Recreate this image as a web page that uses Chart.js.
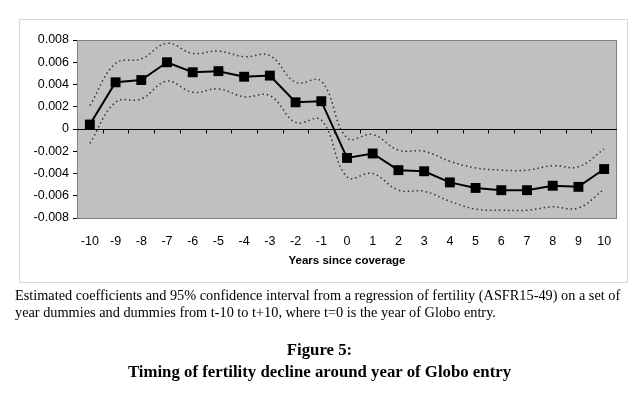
<!DOCTYPE html>
<html>
<head>
<meta charset="utf-8">
<script src="https://cdn.jsdelivr.net/npm/chart.js@4"></script>
<style>
  body { margin: 0; background: #fff; width: 639px; height: 398px; position: relative; overflow: hidden; }
  #frame { position: absolute; left: 19px; top: 19px; width: 609px; height: 264px; border: 1px solid #d9d9d9; box-sizing: border-box; }
  #chartBox { position: absolute; left: 0; top: 0; width: 639px; height: 398px; }
  .note { position: absolute; left: 15px; top: 287px; white-space: nowrap; font-family: "Liberation Serif", "Times New Roman", serif; font-size: 14.3px; line-height: 16.5px; color: #000; }
  .fig { position: absolute; left: 0; width: 639px; text-align: center; font-family: "Liberation Serif", "Times New Roman", serif; font-weight: bold; font-size: 16.8px; color: #000; }
</style>
</head>
<body>
<div id="frame"></div>
<div id="chartBox"><canvas id="grafico"></canvas></div>
<div class="note">Estimated coefficients and 95% confidence interval from a regression of fertility (ASFR15-49) on a set of<br>year dummies and dummies from t-10 to t+10, where t=0 is the year of Globo entry.</div>
<div class="fig" style="top:340px">Figure 5:</div>
<div class="fig" style="top:362px">Timing of fertility decline around year of Globo entry</div>
<script>
// years since coverage
var years = ["-10","-9","-8","-7","-6","-5","-4","-3","-2","-1","0","1","2","3","4","5","6","7","8","9","10"];
// estimated coefficients
var coef = [0.0004,0.0042,0.0044,0.0060,0.0051,0.0052,0.0047,0.0048,0.0024,0.0025,
            -0.0026,-0.0022,-0.0037,-0.0038,-0.0048,-0.0053,-0.0055,-0.0055,-0.0051,-0.0052,-0.0036];
// 95% confidence interval
var upper = [0.0021,0.0059,0.0063,0.0077,0.0068,0.0070,0.0065,0.0066,0.0042,0.0043,
             -0.0008,-0.0005,-0.0019,-0.0020,-0.0029,-0.0035,-0.0037,-0.0037,-0.0033,-0.0034,-0.0018];
var lower = [-0.0013,0.0024,0.0027,0.0043,0.0033,0.0036,0.0029,0.0030,0.0006,0.0008,
             -0.0043,-0.0040,-0.0055,-0.0056,-0.0065,-0.0072,-0.0073,-0.0073,-0.0070,-0.0071,-0.0054];
var yTicks = [-0.008,-0.006,-0.004,-0.002,0,0.002,0.004,0.006,0.008];

var fondo = {
  id: 'fondo',
  beforeDatasetsDraw: function(chart) {
    var a = chart.chartArea, ctx = chart.ctx;
    ctx.save();
    ctx.fillStyle = '#c0c0c0';
    ctx.fillRect(a.left, a.top, a.right - a.left, a.bottom - a.top);
    ctx.strokeStyle = '#808080';
    ctx.lineWidth = 1;
    ctx.strokeRect(a.left + 0.5, a.top + 0.5, a.right - a.left - 1, a.bottom - a.top);
    // zero line with tick marks between categories
    var x = chart.scales.x, y = chart.scales.y;
    var y0 = Math.round(y.getPixelForValue(0)) + 0.5;
    ctx.strokeStyle = '#000';
    ctx.beginPath();
    ctx.moveTo(a.left, y0); ctx.lineTo(a.right, y0);
    for (var i = 1; i < years.length; i++) {
      var xp = Math.round((x.getPixelForValue(i - 1) + x.getPixelForValue(i)) / 2) + 0.5;
      ctx.moveTo(xp, y0); ctx.lineTo(xp, y0 + 4);
    }
    ctx.stroke();
    ctx.restore();
  }
};

var dotted = {
  borderColor: '#333333',
  borderWidth: 1.5,
  borderDash: [1.5, 3],
  pointRadius: 0,
  tension: 0.4,
  fill: false
};

new Chart(document.getElementById("grafico"), {
  type: 'line',
  data: {
    labels: years,
    datasets: [
      Object.assign({ label: "Upper 95%", data: upper }, dotted),
      Object.assign({ label: "Lower 95%", data: lower }, dotted),
      {
        label: "Coefficient",
        data: coef,
        borderColor: '#000',
        borderWidth: 2,
        pointStyle: 'rect',
        pointRadius: 7,
        pointBackgroundColor: '#000',
        pointBorderColor: '#000',
        pointBorderWidth: 0,
        tension: 0
      }
    ]
  },
  options: {
    responsive: true,
    maintainAspectRatio: false,
    animation: false,
    layout: { padding: { left: 20, top: 40, right: 22, bottom: 126 } },
    plugins: { legend: { display: false }, tooltip: { enabled: false } },
    scales: {
      x: {
        offset: true,
        grid: { display: false },
        border: { display: false },
        ticks: { color: '#000', padding: 8, maxRotation: 0, autoSkip: false, font: { family: 'Liberation Sans', size: 12.5 } },
        title: { display: true, text: 'Years since coverage', color: '#000', padding: { top: 5 }, font: { family: 'Liberation Sans', size: 11.5, weight: 'bold' } },
        afterFit: function(s) { s.height = 54; }
      },
      y: {
        min: -0.008,
        max: 0.008,
        afterBuildTicks: function(s) { s.ticks = yTicks.map(function(v) { return { value: v }; }); },
        grid: { drawOnChartArea: false, tickLength: 4, tickColor: '#000' },
        border: { display: false },
        ticks: {
          color: '#000', padding: 4,
          font: { family: 'Liberation Sans', size: 12.5 },
          callback: function(v) { return Math.abs(v) < 1e-9 ? '0' : v.toFixed(3); }
        },
        afterFit: function(s) { s.width = 57; }
      }
    }
  },
  plugins: [fondo]
});
</script>
</body>
</html>
